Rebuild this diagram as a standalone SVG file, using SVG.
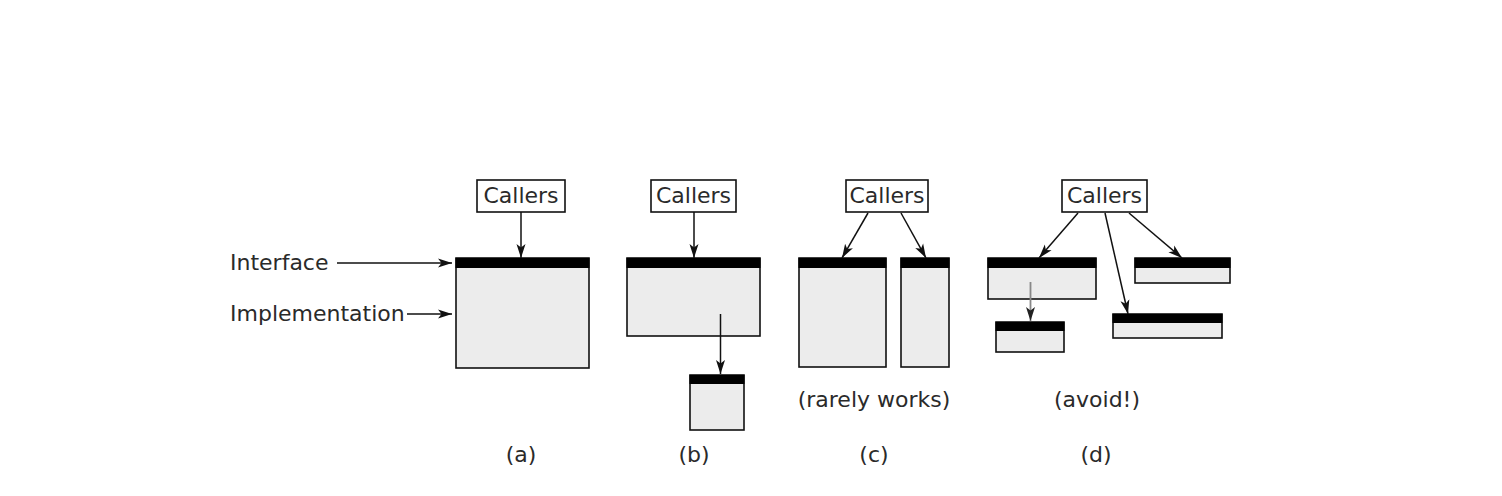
<svg xmlns="http://www.w3.org/2000/svg" width="1502" height="496" viewBox="0 0 1502 496">
<defs>
<style>
text{font-family:"DejaVu Sans","Liberation Sans",sans-serif;font-size:22px;fill:#2a2a2a}
.mid{text-anchor:middle}
.box{fill:#fff;stroke:#111;stroke-width:1.6}
.impl{fill:#ececec;stroke:#111;stroke-width:1.6}
.bar{fill:#000}
.c{stroke:#111;stroke-width:1.5;fill:none;marker-end:url(#ah)}
.g{stroke:#888;stroke-width:1.8;fill:none;marker-end:url(#ahg)}
</style>
<marker id="ah" markerUnits="userSpaceOnUse" markerWidth="15" markerHeight="11" refX="14" refY="5.5" orient="auto">
<path d="M0,1 L14,5.5 L0,10 L3.5,5.5 z" fill="#111"/>
</marker>
<marker id="ahg" markerUnits="userSpaceOnUse" markerWidth="15" markerHeight="11" refX="14" refY="5.5" orient="auto">
<path d="M0,1 L14,5.5 L0,10 L3.5,5.5 z" fill="#222"/>
</marker>
</defs>
<rect width="1502" height="496" fill="#fff"/>

<g id="legend">
<text x="230" y="270">Interface</text>
<text x="230" y="321">Implementation</text>
</g>

<g id="a-callers"><rect class="box" x="477" y="180" width="88" height="32"/><text class="mid" x="521" y="203">Callers</text></g>
<g id="a-module"><rect class="impl" x="456" y="258" width="133" height="110"/><rect class="bar" x="455.5" y="258" width="134" height="10"/></g>
<g id="a-label"><text class="mid" x="521" y="462">(a)</text></g>

<g id="b-callers"><rect class="box" x="651" y="180" width="85" height="32"/><text class="mid" x="693.5" y="203">Callers</text></g>
<g id="b-module"><rect class="impl" x="627" y="258" width="133" height="78"/><rect class="bar" x="626.5" y="258" width="134" height="10"/></g>
<g id="b-sub"><rect class="impl" x="690" y="375" width="54" height="55"/><rect class="bar" x="689.5" y="375" width="55" height="9"/></g>
<g id="b-label"><text class="mid" x="694" y="462">(b)</text></g>

<g id="c-callers"><rect class="box" x="846" y="180" width="82" height="32"/><text class="mid" x="887" y="203">Callers</text></g>
<g id="c-left"><rect class="impl" x="799" y="258" width="87" height="109"/><rect class="bar" x="798.5" y="258" width="88" height="10"/></g>
<g id="c-right"><rect class="impl" x="901" y="258" width="48" height="109"/><rect class="bar" x="900.5" y="258" width="49" height="10"/></g>
<g id="c-note"><text class="mid" x="874" y="407">(rarely works)</text></g>
<g id="c-label"><text class="mid" x="874" y="462">(c)</text></g>

<g id="d-callers"><rect class="box" x="1062" y="180" width="85" height="32"/><text class="mid" x="1104.5" y="203">Callers</text></g>
<g id="d-m1"><rect class="impl" x="988" y="258" width="108" height="41"/><rect class="bar" x="987.5" y="258" width="109" height="10"/></g>
<g id="d-m2"><rect class="impl" x="996" y="322" width="68" height="30"/><rect class="bar" x="995.5" y="322" width="69" height="9"/></g>
<g id="d-m3"><rect class="impl" x="1135" y="258" width="95" height="25"/><rect class="bar" x="1134.5" y="258" width="96" height="10"/></g>
<g id="d-m4"><rect class="impl" x="1113" y="314" width="109" height="24"/><rect class="bar" x="1112.5" y="314" width="110" height="9"/></g>
<g id="d-note"><text class="mid" x="1097" y="407">(avoid!)</text></g>
<g id="d-label"><text class="mid" x="1096" y="462">(d)</text></g>

<g id="connectors">
<line class="c" x1="337" y1="263" x2="452" y2="263"/>
<line class="c" x1="407" y1="314" x2="452" y2="314"/>
<line class="c" x1="521" y1="212" x2="521" y2="258"/>
<line class="c" x1="694" y1="212" x2="694" y2="258"/>
<line class="c" x1="720.5" y1="314" x2="720.5" y2="374"/>
<line class="c" x1="868" y1="213" x2="842" y2="258"/>
<line class="c" x1="901" y1="213" x2="926" y2="258"/>
<line class="c" x1="1078" y1="213" x2="1039" y2="258"/>
<line class="c" x1="1105" y1="213" x2="1128" y2="314"/>
<line class="c" x1="1129" y1="213" x2="1182" y2="258"/>
<line class="g" x1="1030.5" y1="282" x2="1030.5" y2="321"/>
</g>
</svg>
